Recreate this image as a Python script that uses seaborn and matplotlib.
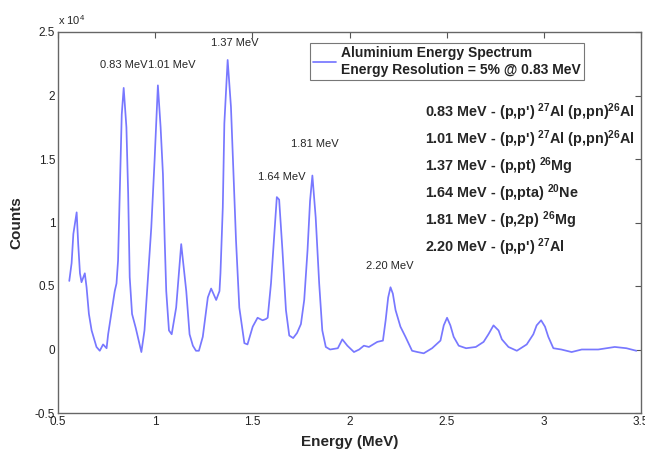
import matplotlib
matplotlib.use("Agg")
import matplotlib.pyplot as plt
import seaborn as sns
import pandas as pd

energy = [0.558, 0.570, 0.579, 0.596, 0.604, 0.613, 0.621, 0.638, 0.647, 0.659, 0.673, 0.698,
          0.715, 0.732, 0.750, 0.758, 0.792, 0.801, 0.809, 0.818, 0.828, 0.838, 0.852, 0.861,
          0.869, 0.881, 0.900, 0.929, 0.945, 0.963, 0.980, 0.997, 1.014, 1.028, 1.040, 1.049,
          1.057, 1.071, 1.085, 1.108, 1.134, 1.160, 1.177, 1.194, 1.210, 1.225, 1.245, 1.271,
          1.288, 1.314, 1.331, 1.336, 1.348, 1.356, 1.373, 1.390, 1.403, 1.416, 1.433, 1.459,
          1.475, 1.502, 1.527, 1.553, 1.570, 1.579, 1.596, 1.613, 1.626, 1.638, 1.655, 1.673,
          1.690, 1.710, 1.730, 1.750, 1.767, 1.784, 1.797, 1.809, 1.826, 1.844, 1.860, 1.878,
          1.900, 1.940, 1.963, 1.989, 2.023, 2.050, 2.074, 2.100, 2.143, 2.172, 2.186, 2.199,
          2.211, 2.223, 2.237, 2.262, 2.288, 2.322, 2.350, 2.382, 2.425, 2.468, 2.485, 2.502,
          2.519, 2.536, 2.562, 2.600, 2.650, 2.690, 2.715, 2.741, 2.767, 2.784, 2.818, 2.861,
          2.912, 2.946, 2.963, 2.986, 3.006, 3.023, 3.049, 3.090, 3.143, 3.195, 3.280, 3.365,
          3.425, 3.476]
counts = [0.54, 0.68, 0.91, 1.08, 0.83, 0.60, 0.53, 0.60, 0.49, 0.28, 0.15, 0.02,
          -0.01, 0.04, 0.01, 0.12, 0.46, 0.52, 0.70, 1.23, 1.85, 2.06, 1.75, 1.23,
          0.57, 0.28, 0.17, -0.02, 0.15, 0.57, 0.96, 1.49, 2.08, 1.75, 1.38, 0.86,
          0.46, 0.15, 0.12, 0.33, 0.83, 0.46, 0.12, 0.03, -0.01, -0.01, 0.10, 0.41,
          0.48, 0.39, 0.46, 0.60, 1.12, 1.78, 2.28, 1.91, 1.38, 0.86, 0.33, 0.05,
          0.04, 0.18, 0.25, 0.23, 0.24, 0.25, 0.52, 0.91, 1.20, 1.18, 0.78, 0.31,
          0.11, 0.09, 0.13, 0.20, 0.39, 0.78, 1.17, 1.37, 1.04, 0.52, 0.15, 0.02,
          0.00, 0.01, 0.08, 0.03, -0.02, 0.00, 0.03, 0.02, 0.06, 0.07, 0.23, 0.41,
          0.49, 0.44, 0.31, 0.18, 0.10, -0.01, -0.02, -0.03, 0.01, 0.07, 0.19, 0.25,
          0.19, 0.10, 0.03, 0.01, 0.02, 0.06, 0.12, 0.19, 0.15, 0.08, 0.02, -0.01,
          0.04, 0.12, 0.19, 0.23, 0.18, 0.10, 0.01, 0.00, -0.02, 0.00, 0.00, 0.02,
          0.01, -0.01]

peak_labels = ["0.83 MeV", "1.01 MeV", "1.37 MeV", "1.64 MeV", "1.81 MeV", "2.20 MeV"]
peak_label_x = [0.715, 0.962, 1.285, 1.531, 1.700, 2.085]
peak_label_y = [2.24, 2.24, 2.41, 1.36, 1.62, 0.66]

reactions = [r"0.83 MeV - (p,p') $^{\mathbf{27}}$Al (p,pn)$^{\mathbf{26}}$Al",
             r"1.01 MeV - (p,p') $^{\mathbf{27}}$Al (p,pn)$^{\mathbf{26}}$Al",
             r"1.37 MeV - (p,pt) $^{\mathbf{26}}$Mg",
             r"1.64 MeV - (p,pta) $^{\mathbf{20}}$Ne",
             r"1.81 MeV - (p,2p) $^{\mathbf{26}}$Mg",
             r"2.20 MeV - (p,p') $^{\mathbf{27}}$Al"]

xticks = [0.5, 1, 1.5, 2, 2.5, 3, 3.5]
xticklabels = ["0.5", "1", "1.5", "2", "2.5", "3", "3.5"]
yticks = [-0.5, 0, 0.5, 1, 1.5, 2, 2.5]
yticklabels = ["-0.5", "0", "0.5", "1", "1.5", "2", "2.5"]

sns.set_theme(style="white")
plt.rcParams['font.family'] = ['Liberation Sans', 'DejaVu Sans']
plt.rcParams['mathtext.fontset'] = 'custom'
plt.rcParams['mathtext.rm'] = 'Liberation Sans'
plt.rcParams['mathtext.bf'] = 'Liberation Sans:bold'

fig = plt.figure(figsize=(6.45, 4.51), dpi=100)
ax = fig.add_axes([58 / 645, 38 / 451, 583 / 645, 381 / 451])

df = pd.DataFrame({"Energy": energy, "Counts": counts})
sns.lineplot(data=df, x="Energy", y="Counts", ax=ax, color="#7878ff", linewidth=1.25,
             sort=False, estimator=None, label="Aluminium Energy Spectrum\nEnergy Resolution = 5% @ 0.83 MeV")

ax.set_xlim(0.5, 3.5)
ax.set_ylim(-0.5, 2.5)
ax.set_xticks(xticks)
ax.set_xticklabels(xticklabels)
ax.set_yticks(yticks)
ax.set_yticklabels(yticklabels)
ax.tick_params(direction="in", length=4, width=0.8, color="#555555", labelsize=8.5,
               top=True, right=True, pad=2, labelcolor="#222222")
for s in ax.spines.values():
    s.set_color("#666666")
    s.set_linewidth(1.0)

ax.set_xlabel("Energy (MeV)", fontsize=11, fontweight="bold", labelpad=5)
ax.set_ylabel("Counts", fontsize=11, fontweight="bold", labelpad=8)
ax.text(0.0, 1.012, r"x 10$^{4}$", transform=ax.transAxes, fontsize=8, ha="left", va="bottom")

for lab, lx, ly in zip(peak_labels, peak_label_x, peak_label_y):
    ax.text(lx, ly, lab, fontsize=8, ha="left", va="center")

for i, r in enumerate(reactions):
    ax.text(425 / 645, (451 - 112 - i * 27) / 451, r, transform=fig.transFigure,
            fontsize=10.4, fontweight="bold", ha="left", va="center")

leg = ax.legend(loc="upper left", bbox_to_anchor=((310 - 58) / 583, (419 - 49) / 381),
                fontsize=10, frameon=True, fancybox=False, handlelength=1.6,
                borderpad=0.25, handletextpad=0.4, borderaxespad=0, labelspacing=0.2)
leg.get_frame().set_edgecolor("#555555")
leg.get_frame().set_linewidth(0.8)
for t in leg.get_texts():
    t.set_fontweight("bold")
    t.set_color("#222222")

fig.savefig("out.png", dpi=100)
